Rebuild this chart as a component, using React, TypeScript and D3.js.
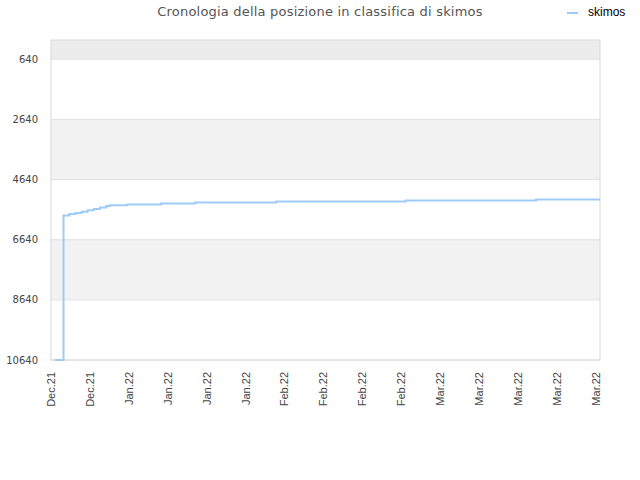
import React from 'react';
import * as d3 from 'd3';

// rank history for skimos (lower is better)
const dates = [
  '2021-12-21T17:00', '2021-12-23T06:00', '2021-12-24T07:00', '2021-12-25T10:00',
  '2021-12-26T12:00', '2021-12-27T14:00', '2021-12-28T17:00', '2021-12-29T19:00',
  '2021-12-30T22:00', '2021-12-31T14:00', '2022-01-03T17:00', '2022-01-09T19:00',
  '2022-01-15T22:00', '2022-01-30T12:00', '2022-02-22T19:00', '2022-03-18T05:00',
  '2022-03-29T17:00',
];
const ranks = [
  10640, 5838, 5790, 5750,
  5710, 5660, 5620, 5570,
  5520, 5492, 5472, 5439,
  5405, 5372, 5339, 5305,
  5305,
];

const yTicks = [640, 2640, 4640, 6640, 8640, 10640];
const yDomain = [1, 10640];
const xStart = new Date(2021, 11, 21);
const xEnd = new Date(2022, 2, 29, 17);
const title = 'Cronologia della posizione in classifica di skimos';
const seriesName = 'skimos';

const W = 640;
const H = 480;
const left = 51;
const right = 600;
const top = 40;
const bottom = 360;

const App: React.FC = () => {
  const x = d3.scaleTime().domain([xStart, xEnd]).range([left, right]);
  const y = d3.scaleLinear().domain(yDomain).range([top, bottom]);

  const points = dates.map((d, i) => ({ date: new Date(d), rank: ranks[i] }));
  const line = d3.line<{ date: Date; rank: number }>()
    .x(d => x(d.date))
    .y(d => y(d.rank))
    .curve(d3.curveStepAfter);

  const xTicks = d3.timeDay.range(xStart, d3.timeDay.offset(xStart, 99), 7);
  const fmt = d3.timeFormat('%b.%y');

  // alternating bands between the y ticks
  const edges = [yDomain[0], ...yTicks];
  const bandFill = (i: number) => (i === 0 ? '#ececec' : i % 2 === 0 ? '#f2f2f2' : '#ffffff');

  return (
    <svg width={W} height={H} style={{ position: 'absolute', left: 0, top: 0 }}>
      <rect width={W} height={H} fill="#fff" />
      {edges.slice(0, -1).map((e, i) => (
        <rect key={i} x={left} y={y(e)} width={right - left} height={y(edges[i + 1]) - y(e)} fill={bandFill(i)} />
      ))}
      {yTicks.map(t => (
        <line key={t} x1={left} x2={right} y1={y(t)} y2={y(t)} stroke="#e0e0e0" />
      ))}
      <rect x={left} y={top} width={right - left} height={bottom - top} fill="none" stroke="#dadada" />

      {yTicks.map(t => (
        <text key={t} x={38} y={y(t)} dy="0.35em" textAnchor="end"
          style={{ fontFamily: 'DejaVu Sans', fontSize: 10, fill: '#444' }}>{t}</text>
      ))}
      {xTicks.map((t, i) => (
        <text key={i} transform={`translate(${x(t)},372) rotate(-90)`} dy="0.35em" textAnchor="end"
          style={{ fontFamily: 'Liberation Sans', fontSize: 11, fill: '#444' }}>{fmt(t)}</text>
      ))}

      <path d={line(points) || ''} fill="none" stroke="#9ecbf7" strokeWidth={2} />

      <text x={320} y={16} textAnchor="middle"
        style={{ fontFamily: 'DejaVu Sans', fontSize: 13, fill: '#555', letterSpacing: 0.2 }}>{title}</text>

      <line x1={567} x2={578} y1={13} y2={13} stroke="#9ecbf7" strokeWidth={2} />
      <text x={588} y={16} style={{ fontFamily: 'Liberation Sans', fontSize: 12, fill: '#000' }}>{seriesName}</text>
    </svg>
  );
};

export default App;
